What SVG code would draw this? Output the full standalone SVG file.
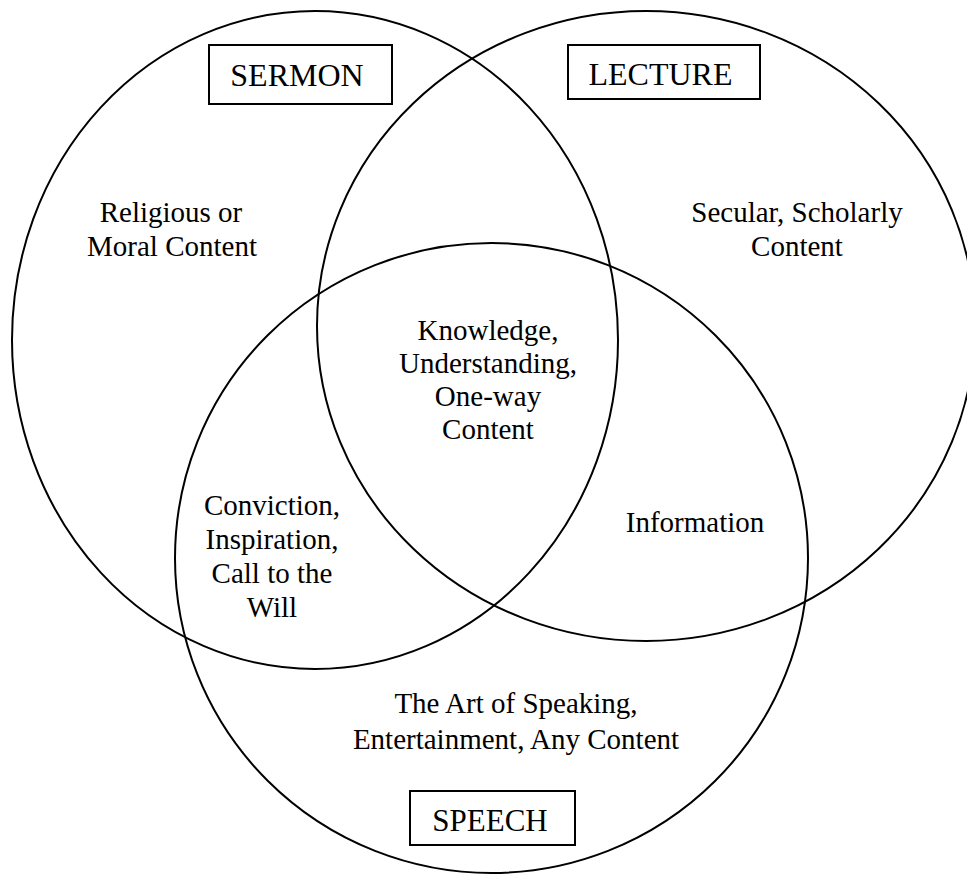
<svg xmlns="http://www.w3.org/2000/svg" width="967" height="875" viewBox="0 0 967 875">
<style>
.c{fill:none;stroke:#000;stroke-width:2}
.b{fill:#fff;stroke:#000;stroke-width:2}
.t{font-family:"Liberation Serif","Times New Roman",serif;font-size:29px;fill:#000;text-anchor:middle}
.h{font-family:"Liberation Serif","Times New Roman",serif;font-size:32px;fill:#000;text-anchor:middle}
</style>
<rect width="967" height="875" fill="#fff"/>
<g id="sermon">
<ellipse class="c" cx="315" cy="340" rx="303" ry="329"/>
<rect class="b" x="209" y="45" width="183" height="59"/>
<text class="h" x="297" y="86">SERMON</text>
<text class="t" x="171" y="222">Religious or</text>
<text class="t" x="172" y="256">Moral Content</text>
</g>
<g id="lecture">
<ellipse class="c" cx="646" cy="326" rx="329" ry="315"/>
<rect class="b" x="568" y="45" width="192" height="54"/>
<text class="h" x="660.5" y="85">LECTURE</text>
<text class="t" x="797" y="222">Secular, Scholarly</text>
<text class="t" x="797" y="256">Content</text>
</g>
<g id="speech">
<ellipse class="c" cx="491.5" cy="558" rx="316.5" ry="315"/>
<rect class="b" x="410" y="791" width="165" height="54"/>
<text class="h" x="490" y="831" style="font-size:31px">SPEECH</text>
<text class="t" x="516" y="713">The Art of Speaking,</text>
<text class="t" x="516" y="749">Entertainment, Any Content</text>
</g>
<g id="center">
<text class="t" x="488" y="340">Knowledge,</text>
<text class="t" x="488" y="373">Understanding,</text>
<text class="t" x="488" y="406">One-way</text>
<text class="t" x="488" y="439">Content</text>
</g>
<g id="sermon-speech">
<text class="t" x="272" y="515">Conviction,</text>
<text class="t" x="272" y="549">Inspiration,</text>
<text class="t" x="272" y="583">Call to the</text>
<text class="t" x="272" y="617">Will</text>
</g>
<g id="lecture-speech">
<text class="t" x="695" y="532">Information</text>
</g>
<g id="connectors"></g>
</svg>
